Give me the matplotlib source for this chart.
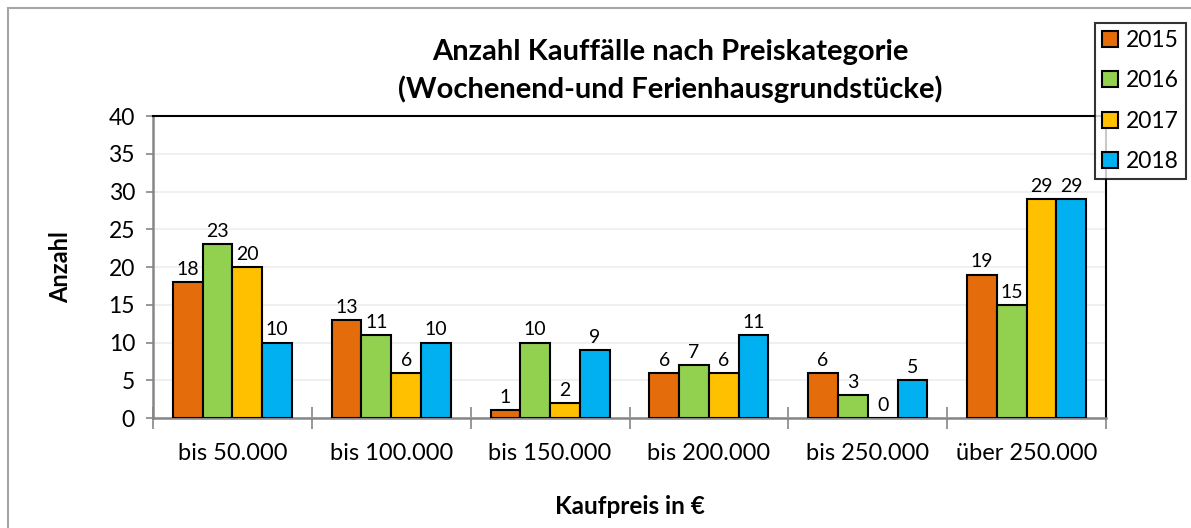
import numpy as np
import matplotlib.pyplot as plt
from matplotlib.patches import Rectangle

plt.rcParams['font.family'] = ['Lato', 'DejaVu Sans']

categories = ["bis 50.000", "bis 100.000", "bis 150.000", "bis 200.000", "bis 250.000", "über 250.000"]
years = ["2015", "2016", "2017", "2018"]
v2015 = [18, 13, 1, 6, 6, 19]
v2016 = [23, 11, 10, 7, 3, 15]
v2017 = [20, 6, 2, 6, 0, 29]
v2018 = [10, 10, 9, 11, 5, 29]
series = [v2015, v2016, v2017, v2018]
colors = ['#E46C0A', '#92D050', '#FFC000', '#00B0F0']

fig = plt.figure(figsize=(11.91, 5.28), dpi=100)
ax = fig.add_axes([0.1285, 0.2083, 0.8001, 0.572])

x = np.arange(len(categories))
w = 0.1875
for i, (vals, col, yr) in enumerate(zip(series, colors, years)):
    pos = x + (i - 1.5) * w
    ax.bar(pos, vals, width=w, color=col, edgecolor='black', linewidth=1.5, label=yr, zorder=3)
    for p, v in zip(pos, vals):
        ax.annotate(str(v), (p, v), xytext=(0, 3), textcoords='offset points',
                    ha='center', va='bottom', fontsize=14)

ax.set_xlim(-0.5, 5.5)
ax.set_ylim(0, 40)
ax.set_yticks(range(0, 41, 5))
ax.tick_params(axis='y', labelsize=16.5, length=5, color='#868686', width=1.2, pad=8)
ax.grid(axis='y', color='#EDEDED', linewidth=1.2, zorder=0)

ax.set_xticks(x)
ax.set_xticklabels(categories, fontsize=17)
ax.tick_params(axis='x', length=0, pad=18)
ax.set_xticks(np.arange(-0.5, 6, 1), minor=True)
ax.tick_params(axis='x', which='minor', direction='inout', length=16, color='#868686', width=1.2)

for s in ['left', 'bottom']:
    ax.spines[s].set_color('#868686')
    ax.spines[s].set_linewidth(1.8)
for s in ['top', 'right']:
    ax.spines[s].set_color('black')
    ax.spines[s].set_linewidth(1.5)

ax.set_ylabel('Anzahl', fontsize=17, fontweight='bold', labelpad=26)
ax.set_xlabel('Kaufpreis in €', fontsize=17.5, fontweight='bold', labelpad=22)

fig.text(0.5626, 1 - 71 / 528, 'Anzahl Kauffälle nach Preiskategorie\n(Wochenend-und Ferienhausgrundstücke)',
         ha='center', va='center', fontsize=21, fontweight='bold', linespacing=1.45)

leg = fig.legend(loc='upper left', bbox_to_anchor=(1095 / 1191, 1 - 23 / 528), fontsize=16.5,
                 frameon=True, fancybox=False, edgecolor='black', handlelength=0.7, handleheight=0.7,
                 handletextpad=0.35, labelspacing=0.85, borderpad=0.3, borderaxespad=0)
leg.get_frame().set_linewidth(1.5)

fig.add_artist(Rectangle((8 / 1191, -0.05), 1.2, 1.05 - 8 / 528, transform=fig.transFigure,
                         fill=False, edgecolor='#A6A6A6', linewidth=1.5))

fig.savefig('out.png', dpi=100)
